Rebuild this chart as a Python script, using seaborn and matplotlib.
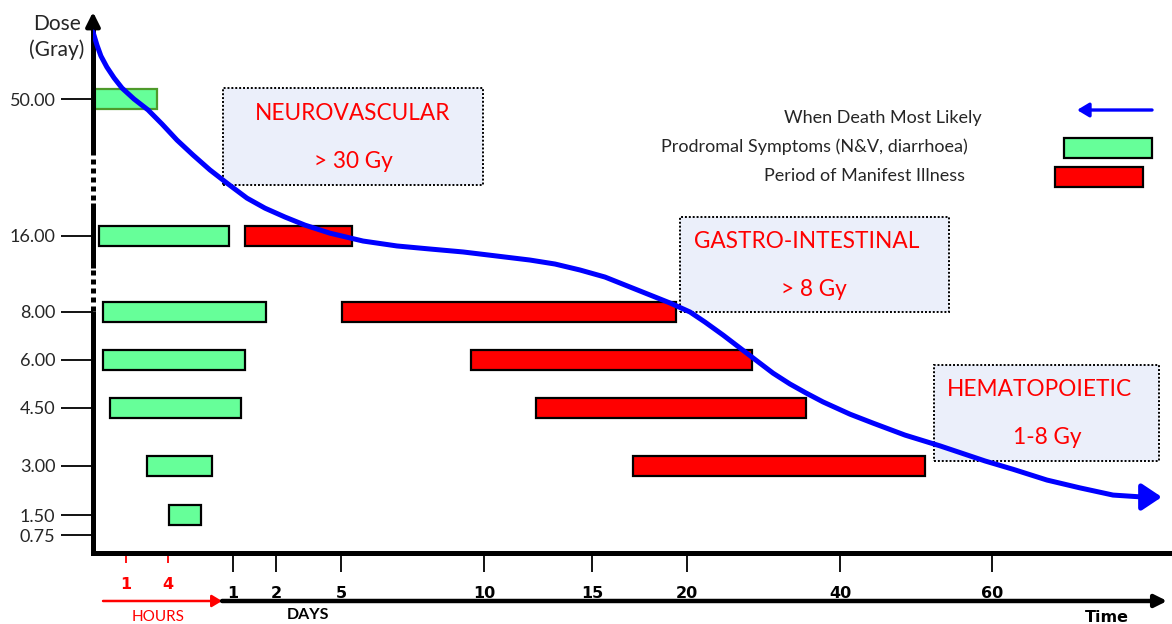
import numpy as np
import pandas as pd
import matplotlib.pyplot as plt
import seaborn as sns

# dose levels shown on the y axis (Gray)
dose_ticks = [0.75, 1.5, 3, 4.5, 6, 8, 16, 50]

# prodromal symptoms (N&V, diarrhoea): dose, start and end in hours
prodromal_dose = [50, 16, 8, 6, 4.5, 3, 1.5]
prodromal_start = [0.06, 0.18, 0.3, 0.3, 0.52, 2.5, 4.3]
prodromal_end = [3.2, 22.8, 42.4, 30.7, 28.5, 17.5, 14.2]

# period of manifest illness: dose, start and end in hours
illness_dose = [16, 8, 6, 4.5, 3]
illness_start = [30.7, 120.8, 229, 298, 412]
illness_end = [129, 466, 684, 853, 1228]

# when death most likely (hours, Gray)
death_hours = [0, 0.12, 0.24, 0.42, 0.64, 0.88, 1.57, 2.57, 3.57, 6.77, 11.7, 16.9,
               22.5, 31.8, 41.9, 58, 80.1, 107.8, 138.5, 167, 194.7, 222.4, 254.4,
               291, 318.9, 346.7, 376.4, 408, 433.3, 458.5, 489.4, 536.5, 593, 646.3,
               699.6, 749.8, 803, 853.3, 906.7, 991.6, 1064, 1165, 1276, 1418, 1508,
               1618, 1725, 1832, 1929, 1990]
death_gy = [89.9, 82.1, 75.6, 69.0, 62.5, 56.5, 50, 47.3, 43.8, 39.8, 36.1, 32.4,
            28.9, 25.4, 22.9, 20.7, 18.7, 16.7, 15.47, 14.95, 14.63, 14.32, 13.89,
            13.47, 13.05, 12.42, 11.68, 10.63, 9.79, 8.95, 8.0, 7.58, 7.04, 6.5,
            5.97, 5.59, 5.25, 4.97, 4.69, 4.34, 4.11, 3.80, 3.52, 3.13, 2.90,
            2.57, 2.33, 2.11, 2.05, 2.05]

# x axis labels
hour_ticks = [1, 4]
day_ticks = [1, 2, 5, 10, 15, 20, 40, 60]

# broken, non linear axes (knots of the piecewise scales)
TIME_KNOTS = [0, 1, 4, 24, 48, 120, 240, 360, 480, 960, 1440, 2023]
TIME_POS = [0, 33, 75, 140, 183, 248, 391, 499, 594, 747, 899, 1079]
DOSE_KNOTS = [0, 0.75, 1.5, 3, 4.5, 6, 8, 16, 50, 100]
DOSE_POS = [0, 18, 38, 87, 145, 193, 241, 317, 454, 538]

def t_fwd(x): return np.interp(x, TIME_KNOTS, TIME_POS)
def t_inv(x): return np.interp(x, TIME_POS, TIME_KNOTS)
def d_fwd(y): return np.interp(y, DOSE_KNOTS, DOSE_POS)
def d_inv(y): return np.interp(y, DOSE_POS, DOSE_KNOTS)

sns.set_style('white')
plt.rcParams['font.family'] = ['Lato', 'DejaVu Sans']

fig = plt.figure(figsize=(11.72, 6.24), dpi=100)
ax = fig.add_axes([93/1172, 71/624, 1079/1172, 538/624])
ax.set_xscale('function', functions=(t_fwd, t_inv))
ax.set_yscale('function', functions=(d_fwd, d_inv))
ax.set_xlim(0, 2023)
ax.set_ylim(0, 100)

GREEN = '#66FF99'
RED = '#FF0000'
BLUE = '#0000FF'

def bars(doses, starts, ends, color, edges):
    for d, s, e, ec in zip(doses, starts, ends, edges):
        lo = d_inv(d_fwd(d) - 10)
        hi = d_inv(d_fwd(d) + 10)
        ax.barh(lo, e - s, height=hi - lo, left=s, align='edge',
                color=color, edgecolor=ec, linewidth=1.6, zorder=3)

bars(prodromal_dose, prodromal_start, prodromal_end, GREEN,
     ['#4E9A2A'] + ['black'] * (len(prodromal_dose) - 1))
bars(illness_dose, illness_start, illness_end, RED, ['black'] * len(illness_dose))

# death curve with arrow head
curve = pd.DataFrame({'hours': death_hours[:-1], 'gy': death_gy[:-1]})
sns.lineplot(data=curve, x='hours', y='gy', ax=ax, color=BLUE, linewidth=3.6,
             sort=False, zorder=5)
ax.annotate('', xy=(death_hours[-1], death_gy[-1]),
            xytext=(death_hours[-2], death_gy[-2]),
            arrowprops=dict(arrowstyle='-|>,head_length=0.6,head_width=0.4',
                            color=BLUE, lw=3.6, mutation_scale=20,
                            shrinkA=0, shrinkB=0), zorder=6, annotation_clip=False)

# spines / axes
for s in ['left', 'top', 'right']:
    ax.spines[s].set_visible(False)
ax.spines['bottom'].set_linewidth(3.6)
ax.spines['bottom'].set_color('black')

tr = ax.transAxes
for y0, y1, ls in [(0, 0.4498, '-'), (0.4498, 0.5260, (0, (1, 0.8))),
                   (0.5297, 0.6506, '-'), (0.6561, 0.7342, (0, (1, 0.8))),
                   (0.7398, 0.99, '-')]:
    ax.plot([0, 0], [y0, y1], transform=tr, color='black', lw=3.6, ls=ls,
            solid_capstyle='butt', dash_capstyle='butt', clip_on=False, zorder=4)
ax.annotate('', xy=(0, 1.0056), xycoords='axes fraction', xytext=(0, 0.97),
            textcoords='axes fraction',
            arrowprops=dict(arrowstyle='-|>,head_length=0.7,head_width=0.35',
                            color='black', lw=3, mutation_scale=12,
                            shrinkA=0, shrinkB=0))

# y ticks
ax.set_yticks(dose_ticks, labels=[f'{d:.2f}' for d in dose_ticks])
ax.tick_params(axis='y', which='major', left=True, length=23, width=1.3,
               color='black', pad=4, labelsize=13, labelcolor='#262626')
ax.set_yticks([], minor=True)

# x ticks: days (major) and hours (minor)
ax.set_xticks([d * 24 for d in day_ticks], labels=[str(d) for d in day_ticks])
ax.set_xticks(hour_ticks, labels=[str(h) for h in hour_ticks], minor=True)
ax.tick_params(axis='x', which='major', bottom=True, length=14, width=1.3,
               color='black', pad=10, labelsize=11.5, labelcolor='black')
ax.tick_params(axis='x', which='minor', bottom=True, length=7, width=1.3,
               color=RED, pad=10, labelsize=11.5, labelcolor=RED)
for lab in ax.get_xticklabels(minor=False) + ax.get_xticklabels(minor=True):
    lab.set_fontweight('bold')
    lab.set_family(['Liberation Sans Narrow', 'DejaVu Sans'])

# hours / days arrows under the axis
ax.annotate('', xy=(0.1196, -0.0892), xycoords='axes fraction', xytext=(0.0093, -0.0892),
            textcoords='axes fraction',
            arrowprops=dict(arrowstyle='-|>,head_length=0.5,head_width=0.3', color=RED,
                            lw=1.8, mutation_scale=12, shrinkA=0, shrinkB=0))
ax.annotate('', xy=(0.9955, -0.0892), xycoords='axes fraction', xytext=(0.1196, -0.0892),
            textcoords='axes fraction',
            arrowprops=dict(arrowstyle='-|>,head_length=0.6,head_width=0.3', color='black',
                            lw=3.2, mutation_scale=12, shrinkA=0, shrinkB=0))
ax.text(0.0602, -0.119, 'HOURS', transform=tr, color=RED, fontsize=11,
        ha='center', va='center')
ax.text(0.1993, -0.1155, 'DAYS', transform=tr, color='black', fontsize=11.5,
        fontweight='bold', ha='center', va='center')
ax.text(0.9398, -0.119, 'Time', transform=tr, color='black', fontsize=11.5,
        fontweight='bold', ha='center', va='center',
        family=['Liberation Sans Narrow', 'DejaVu Sans'])

ax.text(-0.0334, 0.9833, 'Dose', transform=tr, fontsize=15, ha='center', va='center')
ax.text(-0.0334, 0.935, '(Gray)', transform=tr, fontsize=15, ha='center', va='center')

# syndrome boxes
boxes = [
    (0.1205, 0.6840, 0.2410, 0.1803, 'NEUROVASCULAR', (0.2410, 0.8178), '> 30 Gy', (0.2410, 0.7286)),
    (0.5440, 0.4480, 0.2493, 0.1766, 'GASTRO-INTESTINAL', (0.6613, 0.5781), '> 8 Gy', (0.6682, 0.4907)),
    (0.7794, 0.1710, 0.2085, 0.1784, 'HEMATOPOIETIC', (0.8772, 0.3030), '1-8 Gy', (0.8842, 0.2156)),
]
for x0, y0, w, h, t1, p1, t2, p2 in boxes:
    ax.add_patch(plt.Rectangle((x0, y0), w, h, transform=tr, facecolor='#EBEFFA',
                               edgecolor='black', lw=1.4, ls=(0, (1, 1)), zorder=1,
                               clip_on=False))
    ax.text(*p1, t1, transform=tr, color=RED, fontsize=16.3, ha='center', va='center', zorder=2)
    ax.text(*p2, t2, transform=tr, color=RED, fontsize=16.3, ha='center', va='center', zorder=2)

# legend
ax.text(0.8239, 0.8086, 'When Death Most Likely', transform=tr, fontsize=13,
        ha='right', va='center', color='#262626')
ax.text(0.8109, 0.7546, 'Prodromal Symptoms (N&V, diarrhoea)', transform=tr, fontsize=13,
        ha='right', va='center', color='#262626')
ax.text(0.8082, 0.7007, 'Period of Manifest Illness', transform=tr, fontsize=13,
        ha='right', va='center', color='#262626')
ax.annotate('', xy=(0.9120, 0.8234), xycoords='axes fraction', xytext=(0.9815, 0.8234),
            textcoords='axes fraction',
            arrowprops=dict(arrowstyle='-|>,head_length=0.5,head_width=0.3', color=BLUE,
                            lw=2.4, mutation_scale=14, shrinkA=0, shrinkB=0))
ax.add_patch(plt.Rectangle((0.8999, 0.7342), 0.0816, 0.0372, transform=tr,
                           facecolor=GREEN, edgecolor='black', lw=1.6, clip_on=False))
ax.add_patch(plt.Rectangle((0.8916, 0.6803), 0.0816, 0.0372, transform=tr,
                           facecolor=RED, edgecolor='black', lw=1.6, clip_on=False))

ax.set_xlabel('')
ax.set_ylabel('')
ax.grid(False)

fig.savefig('out.png', dpi=100)
